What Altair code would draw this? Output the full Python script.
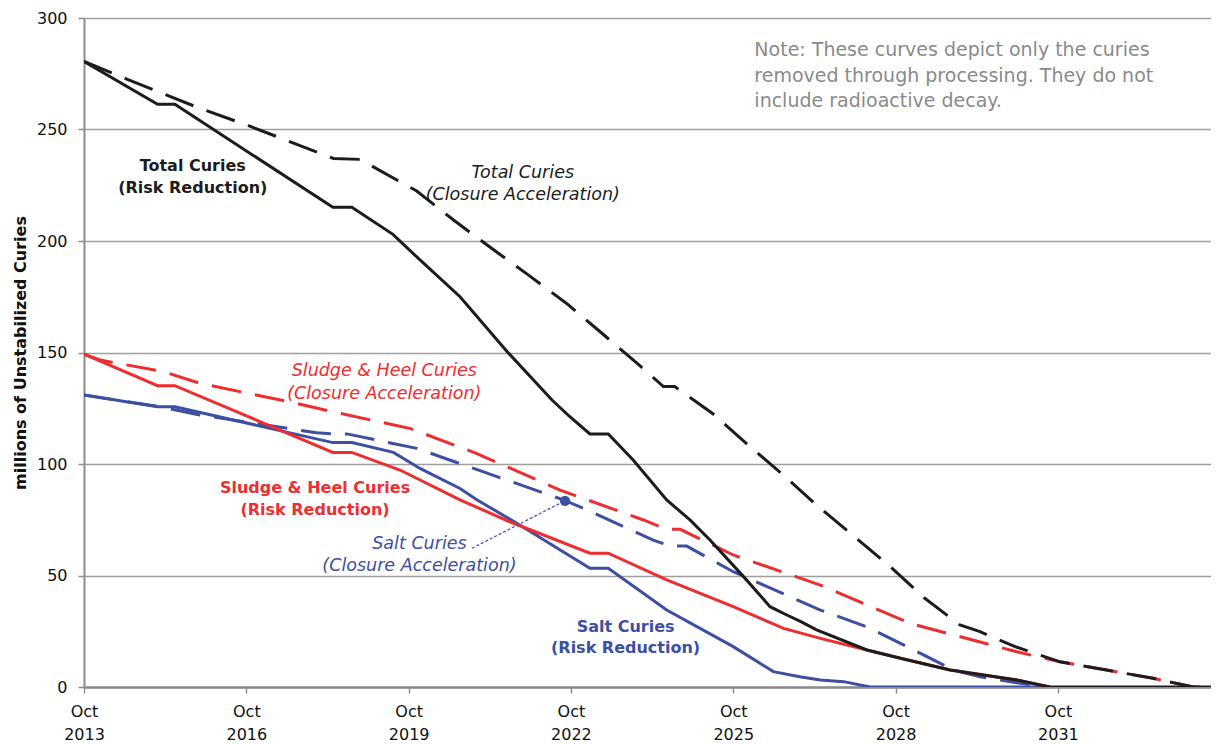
import altair as alt
import pandas as pd

# ---------------- data ----------------
total_rr_year = [2013.75, 2015.11, 2015.43, 2018.35, 2018.70, 2019.46, 2019.96, 2020.70, 2021.60,
                 2022.40, 2022.73, 2023.10, 2023.44, 2023.90, 2024.52, 2024.95, 2025.32, 2025.94,
                 2026.43, 2026.74, 2027.00, 2027.29, 2028.22, 2028.84, 2029.76, 2030.99, 2031.60, 2034.58]
total_rr_val = [280.5, 261.3, 261.3, 215.1, 215.1, 203.0, 191.5, 175.0, 149.6,
                128.7, 121.2, 113.5, 113.5, 101.8, 83.9, 74.9, 65.9, 49.5,
                36.0, 32.3, 29.3, 25.6, 16.6, 12.9, 7.6, 3.1, 0.0, 0.0]

sludge_rr_year = [2013.75, 2015.11, 2015.43, 2018.35, 2018.70, 2019.59, 2020.70, 2021.62, 2023.10,
                  2023.44, 2024.52, 2025.75, 2026.68, 2027.36, 2028.22, 2028.84, 2029.76, 2030.99, 2031.60]
sludge_rr_val = [149.3, 135.1, 135.1, 105.2, 105.2, 97.3, 83.9, 74.1, 60.0,
                 60.0, 48.0, 36.0, 26.3, 21.8, 16.6, 12.9, 7.6, 3.1, 0.0]

salt_rr_year = [2013.75, 2015.11, 2015.43, 2018.35, 2018.70, 2019.47, 2019.96, 2020.70, 2021.01,
                2021.75, 2023.10, 2023.44, 2024.52, 2025.75, 2026.49, 2026.98, 2027.36, 2027.79,
                2028.28, 2031.60]
salt_rr_val = [130.9, 125.7, 125.7, 109.6, 109.6, 105.2, 98.0, 89.0, 84.0,
               73.4, 53.2, 53.2, 34.5, 18.1, 6.9, 4.6, 3.1, 2.4,
               0.0, 0.0]

total_ca_year = [2013.75, 2014.54, 2015.89, 2016.76, 2018.36, 2018.85, 2019.90, 2020.58, 2021.25,
                 2021.96, 2022.67, 2023.29, 2023.97, 2024.46, 2024.67, 2025.38, 2025.99, 2026.67,
                 2027.29, 2028.65, 2029.29, 2029.94, 2030.31, 2030.96, 2031.79, 2032.65, 2033.51,
                 2034.25, 2034.58]
total_ca_val = [280.5, 272.6, 259.5, 252.0, 237.0, 236.6, 222.4, 209.4, 197.3,
                184.8, 172.0, 159.3, 145.2, 134.7, 134.7, 122.4, 109.3, 95.1,
                81.6, 54.0, 39.8, 27.8, 24.8, 18.1, 11.3, 7.6, 3.9,
                0.0, 0.0]

sludge_ca_year = [2013.75, 2014.05, 2015.22, 2015.89, 2017.62, 2018.48, 2019.77, 2021.00, 2022.55,
                  2024.09, 2024.52, 2024.77, 2025.75, 2027.36, 2029.02, 2030.99, 2031.79, 2032.65,
                  2033.51, 2034.25]
sludge_ca_val = [149.3, 146.6, 141.4, 136.2, 127.5, 122.7, 116.0, 104.8, 88.3,
                 74.9, 70.7, 70.7, 59.2, 45.7, 28.5, 15.8, 11.3, 7.6,
                 3.9, 0.0]

salt_ca_year = [2013.75, 2015.15, 2015.89, 2018.05, 2018.35, 2018.61, 2019.90, 2021.07, 2022.61,
                2022.98, 2024.27, 2024.58, 2024.89, 2025.75, 2027.36, 2028.22, 2029.02, 2029.82,
                2030.31, 2030.99, 2031.60]
salt_ca_val = [130.9, 125.7, 122.0, 114.0, 113.5, 113.5, 107.0, 97.0, 83.9,
               80.1, 65.9, 63.2, 63.2, 51.7, 34.5, 27.0, 17.4, 7.6,
               4.6, 1.9, 0.0]

tick_years = [2013.75, 2016.75, 2019.75, 2022.75, 2025.75, 2028.75, 2031.75]
y_ticks = [0, 50, 100, 150, 200, 250, 300]

# annotations (data coordinates)
label_text = ["Total Curies", "(Risk Reduction)",
              "Total Curies", "(Closure Acceleration)",
              "Sludge & Heel Curies", "(Closure Acceleration)",
              "Sludge & Heel Curies", "(Risk Reduction)",
              "Salt Curies", "(Closure Acceleration)",
              "Salt Curies", "(Risk Reduction)",
              "Note: These curves depict only the curies",
              "removed through processing. They do not",
              "include radioactive decay."]
label_year = [2015.76, 2015.76, 2021.86, 2021.86, 2019.30, 2019.30, 2018.02, 2018.02,
              2019.95, 2019.95, 2023.76, 2023.76, 2026.14, 2026.14, 2026.14]
label_val = [233.6, 223.8, 230.7, 220.6, 141.9, 131.4, 89.2, 79.4,
             64.1, 54.3, 26.9, 17.3, 285.7, 274.2, 262.8]
label_color = ["#1c1c1c", "#1c1c1c", "#1c1c1c", "#1c1c1c", "#ee2d2f", "#ee2d2f", "#ee2d2f", "#ee2d2f",
               "#3c4fa0", "#3c4fa0", "#3c4fa0", "#3c4fa0", "#8a8a8a", "#8a8a8a", "#8a8a8a"]
label_style = ["bold", "bold", "italic", "italic", "italic", "italic", "bold", "bold",
               "italic", "italic", "bold", "bold", "note", "note", "note"]

leader_year = [2020.92]
leader_val = [62.2]
leader_year2 = [2022.64]
leader_val2 = [83.5]

# ---------------- chart ----------------
BLACK = "#1c1c1c"
RED = "#ee2d2f"
BLUE = "#3c4fa0"
FONT = "DejaVu Sans"

x_enc = alt.X("year:Q",
              scale=alt.Scale(domain=[2013.75, 2034.58], nice=False, zero=False),
              axis=alt.Axis(values=tick_years, title=None, grid=False,
                            labelExpr="['Oct', toString(floor(datum.value))]",
                            labelFont=FONT, labelFontSize=16, labelColor="#111111",
                            labelLineHeight=23, labelPadding=10, labelFlush=False,
                            labelOverlap=False, tickSize=6, tickColor="#8c8c8c", tickWidth=1.5,
                            domainColor="#8c8c8c", domainWidth=2.5))
y_enc = alt.Y("value:Q",
              scale=alt.Scale(domain=[0, 300], nice=False),
              axis=alt.Axis(values=y_ticks, title="millions of Unstabilized Curies",
                            titleFont=FONT, titleFontSize=16, titleFontWeight="bold",
                            titleColor="#111111", titleAngle=270, titleAlign="center",
                            titleBaseline="alphabetic", titleX=-59, titleY=334.5,
                            grid=True, gridColor="#a0a0a0", gridWidth=1.5,
                            labelFont=FONT, labelFontSize=16, labelColor="#111111",
                            labelPadding=11, tickSize=6, tickColor="#8c8c8c", tickWidth=1.5,
                            domainColor="#8c8c8c", domainWidth=2))


def line_layer(years, vals, color, dashed):
    df = pd.DataFrame({"year": years, "value": vals})
    kw = dict(color=color, strokeWidth=3, clip=True)
    if dashed:
        kw["strokeDash"] = [30, 14]
    return alt.Chart(df).mark_line(**kw).encode(x=x_enc, y=y_enc)


layers = [
    line_layer(salt_ca_year, salt_ca_val, BLUE, True),
    line_layer(sludge_ca_year, sludge_ca_val, RED, True),
    line_layer(salt_rr_year, salt_rr_val, BLUE, False),
    line_layer(sludge_rr_year, sludge_rr_val, RED, False),
    line_layer(total_rr_year, total_rr_val, BLACK, False),
    line_layer(total_ca_year, total_ca_val, BLACK, True),
]

leader_df = pd.DataFrame({"year": leader_year, "value": leader_val,
                          "year2": leader_year2, "value2": leader_val2})
leader = alt.Chart(leader_df).mark_rule(color=BLUE, strokeWidth=1.2, strokeDash=[3, 2]).encode(
    x=x_enc, y=y_enc, x2="year2:Q", y2="value2:Q")
dot = alt.Chart(pd.DataFrame({"year": leader_year2, "value": leader_val2})).mark_circle(
    color=BLUE, opacity=1, size=105).encode(x=x_enc, y=y_enc)

labels_df = pd.DataFrame({"text": label_text, "year": label_year, "value": label_val,
                          "color": label_color, "style": label_style})
base_text = alt.Chart(labels_df)
txt_bold = base_text.transform_filter("datum.style == 'bold'").mark_text(
    font=FONT, fontSize=16, fontWeight="bold", align="center", baseline="middle").encode(
    x=x_enc, y=y_enc, text="text:N", color=alt.Color("color:N", scale=None))
txt_italic = base_text.transform_filter("datum.style == 'italic'").mark_text(
    font=FONT, fontSize=17.5, fontStyle="italic", align="center", baseline="middle").encode(
    x=x_enc, y=y_enc, text="text:N", color=alt.Color("color:N", scale=None))
txt_note = base_text.transform_filter("datum.style == 'note'").mark_text(
    font=FONT, fontSize=19, align="left", baseline="middle").encode(
    x=x_enc, y=y_enc, text="text:N", color=alt.Color("color:N", scale=None))

chart = alt.layer(*layers, leader, dot, txt_bold, txt_italic, txt_note).properties(
    width=1127, height=669,
    autosize=alt.AutoSizeParams(type="none"),
    padding={"left": 76, "top": 10, "right": 0, "bottom": 56},
    background="white",
).configure_view(fill="#faf9e0", stroke=None).configure(font=FONT)

chart.save("out.html", embed_options={"renderer": "svg", "actions": False})
